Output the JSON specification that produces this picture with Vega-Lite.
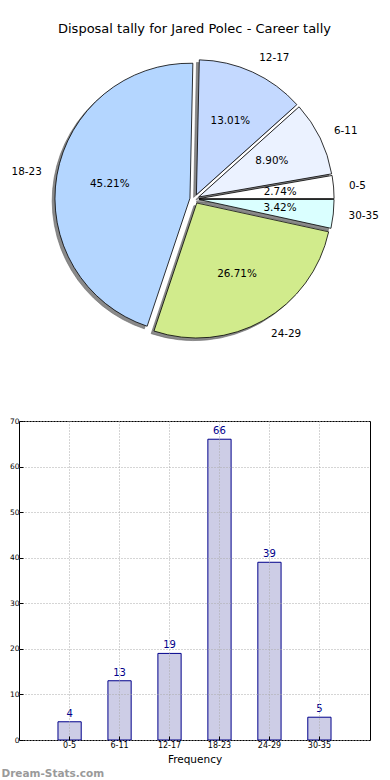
{
  "$schema": "https://vega.github.io/schema/vega-lite/v6.json",
  "autosize": "none",
  "padding": {"left": 19, "top": 50, "right": 371, "bottom": 730},
  "background": "white",
  "config": {"font": "DejaVu Sans", "view": {"stroke": null}},
  "bounds": "flush",
  "spacing": 73,
  "datasets": {
    "tally": [
      {"range": "0-5", "count": 4},
      {"range": "6-11", "count": 13},
      {"range": "12-17", "count": 19},
      {"range": "18-23", "count": 66},
      {"range": "24-29", "count": 39},
      {"range": "30-35", "count": 5}
    ]
  },
  "vconcat": [
    {
      "width": 351,
      "height": 298,
      "view": {"stroke": null},
      "title": {"text": "Disposal tally for Jared Polec - Career tally", "fontSize": 13, "fontWeight": "normal", "color": "#000", "offset": 14, "anchor": "middle"},
      "data": {"name": "tally"},
      "transform": [
        {"joinaggregate": [{"op": "sum", "field": "count", "as": "total"}]},
        {"stack": "count", "groupby": [], "as": ["start", "end"]},
        {"calculate": "(datum.start + datum.end) / 2", "as": "mid"},
        {"calculate": "datum.count / datum.total", "as": "pct"}
      ],
      "layer": [
        {
          "mark": {"type": "arc", "radius": 135, "fill": "#8a8a8a", "stroke": "#666666", "strokeWidth": 0.6,
            "xOffset": {"expr": "4.6 * cos(2 * PI * datum.mid / datum.total) - 2.8"},
            "yOffset": {"expr": "-4.6 * sin(2 * PI * datum.mid / datum.total) + 2.6"}},
          "encoding": {
            "theta": {"field": "start", "type": "quantitative", "stack": false, "scale": {"domain": [0, 146], "range": [1.5707963, -4.712389]}},
            "theta2": {"field": "end"}
          }
        },
        {
          "mark": {"type": "arc", "radius": 135, "stroke": "#000000", "strokeWidth": 0.8,
            "xOffset": {"expr": "4.6 * cos(2 * PI * datum.mid / datum.total)"},
            "yOffset": {"expr": "-4.6 * sin(2 * PI * datum.mid / datum.total)"}},
          "encoding": {
            "theta": {"field": "start", "type": "quantitative", "stack": false},
            "theta2": {"field": "end"},
            "color": {"field": "range", "type": "nominal", "legend": null,
              "scale": {"domain": ["0-5", "6-11", "12-17", "18-23", "24-29", "30-35"],
                "range": ["#ffffff", "#ebf2ff", "#c4d9ff", "#b4d6ff", "#d1eb8c", "#daffff"]}}
          }
        },
        {
          "mark": {"type": "text", "radius": 86, "fontSize": 10.4, "color": "#000"},
          "encoding": {
            "theta": {"field": "mid", "type": "quantitative", "stack": false},
            "text": {"field": "pct", "type": "quantitative", "format": ".2%"}
          }
        },
        {
          "mark": {"type": "text", "radius": 155, "fontSize": 10.4, "color": "#000",
            "align": {"expr": "cos(2 * PI * datum.mid / datum.total) < 0 ? 'right' : 'left'"}},
          "encoding": {
            "theta": {"field": "mid", "type": "quantitative", "stack": false},
            "text": {"field": "range", "type": "nominal"}
          }
        }
      ]
    },
    {
      "width": 351,
      "height": 319,
      "view": {"stroke": "#000000", "strokeWidth": 1},
      "title": {"text": "Dream-Stats.com", "orient": "bottom", "anchor": "start", "dx": -8, "offset": 4, "fontSize": 10.5, "fontWeight": "bold", "color": "#9a9a9a"},
      "data": {"name": "tally"},
      "layer": [
        {
          "mark": {"type": "bar", "fill": "#cdcde6", "stroke": "#00008b", "strokeWidth": 1},
          "encoding": {
            "x": {"field": "range", "type": "nominal", "sort": null,
              "scale": {"paddingInner": 0.535, "paddingOuter": 0.78},
              "axis": {"title": "Frequency", "titleFontSize": 10.5, "titleFontWeight": "normal", "titleColor": "#000", "titlePadding": 5,
                "labelAngle": 0, "labelFontSize": 8, "labelColor": "#000", "labelPadding": 5,
                "tickSize": -4, "tickColor": "#000", "domain": false,
                "grid": true, "gridDash": [1, 2], "gridColor": "#aaaaaa", "zindex": 1}},
            "y": {"field": "count", "type": "quantitative",
              "scale": {"domain": [0, 70], "nice": false},
              "axis": {"title": null, "values": [0, 10, 20, 30, 40, 50, 60, 70], "labelFontSize": 7.5, "labelColor": "#000", "labelPadding": 4,
                "tickSize": -4, "tickColor": "#000", "domain": false,
                "grid": true, "gridDash": [1, 2], "gridColor": "#aaaaaa", "zindex": 1}}
          }
        },
        {
          "mark": {"type": "text", "baseline": "bottom", "dy": -3, "fontSize": 10, "color": "#00008b"},
          "encoding": {
            "x": {"field": "range", "type": "nominal", "sort": null},
            "y": {"field": "count", "type": "quantitative"},
            "text": {"field": "count", "type": "quantitative"}
          }
        }
      ]
    }
  ]
}
